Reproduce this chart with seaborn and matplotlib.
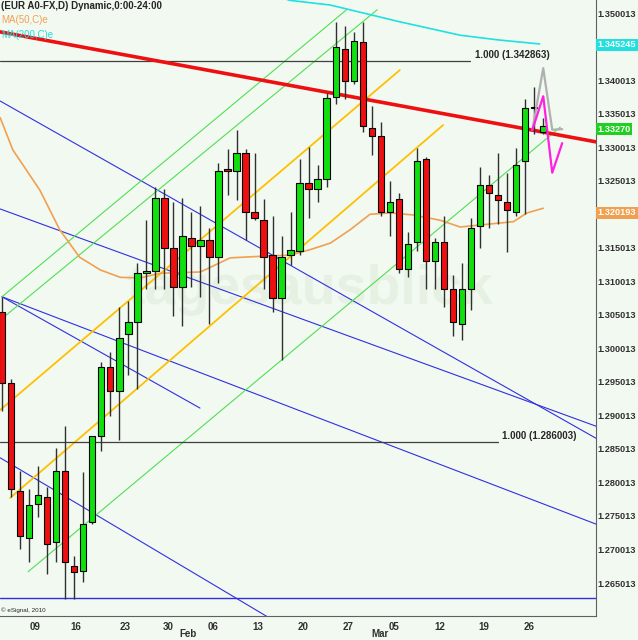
import matplotlib
matplotlib.use("Agg")
import matplotlib.pyplot as plt
import matplotlib.transforms as mtransforms
import numpy as np
import pandas as pd
import seaborn as sns

# daily candles, EUR A0-FX
opens = [1.3055, 1.2948, 1.2788, 1.2718, 1.2768, 1.2779, 1.2711, 1.2817, 1.2675, 1.2668,
         1.2741, 1.2870, 1.2973, 1.2936, 1.3022, 1.3040, 1.3113, 1.3115, 1.3225, 1.3150,
         1.3091, 1.3165, 1.3152, 1.3162, 1.3137, 1.3267, 1.3265, 1.3291, 1.3203, 1.3191,
         1.3139, 1.3075, 1.3139, 1.3145, 1.3247, 1.3237, 1.3253, 1.3375, 1.3446, 1.3399,
         1.3457, 1.3329, 1.3316, 1.3204, 1.3223, 1.3119, 1.3158, 1.3282, 1.3130, 1.3158,
         1.3089, 1.3037, 1.3088, 1.3183, 1.3243, 1.3229, 1.3219, 1.3204, 1.3279, 1.3359,
         1.3323]
highs = [1.3077, 1.2954, 1.2817, 1.2790, 1.2824, 1.2794, 1.2851, 1.2884, 1.2690, 1.2815,
         1.2870, 1.2979, 1.2994, 1.3061, 1.3070, 1.3128, 1.3192, 1.3240, 1.3238, 1.3219,
         1.3225, 1.3204, 1.3212, 1.3180, 1.3277, 1.3297, 1.3326, 1.3297, 1.3291, 1.3223,
         1.3198, 1.3167, 1.3204, 1.3283, 1.3300, 1.3274, 1.3381, 1.3487, 1.3481, 1.3472,
         1.3487, 1.3361, 1.3338, 1.3249, 1.3232, 1.3173, 1.3299, 1.3285, 1.3165, 1.3198,
         1.3109, 1.3127, 1.3194, 1.3271, 1.3259, 1.3291, 1.3262, 1.3299, 1.3372, 1.3390,
         1.3343]
lows = [1.2906, 1.2778, 1.2701, 1.2681, 1.2748, 1.2663, 1.2681, 1.2626, 1.2627, 1.2651,
        1.2738, 1.2847, 1.2899, 1.2863, 1.2961, 1.2940, 1.3088, 1.3088, 1.3088, 1.3049,
        1.3034, 1.3092, 1.3076, 1.3036, 1.3098, 1.3229, 1.3222, 1.3162, 1.3192, 1.3089,
        1.3054, 1.2982, 1.3125, 1.3140, 1.3195, 1.3219, 1.3240, 1.3364, 1.3372, 1.3395,
        1.3322, 1.3289, 1.3197, 1.3167, 1.3113, 1.3106, 1.3145, 1.3088, 1.3088, 1.3061,
        1.3019, 1.3013, 1.3058, 1.3150, 1.3180, 1.3186, 1.3143, 1.3197, 1.3200, 1.3320,
        1.3320]
closes = [1.2949, 1.2791, 1.2720, 1.2766, 1.2781, 1.2709, 1.2817, 1.2681, 1.2666, 1.2738,
          1.2869, 1.2973, 1.2936, 1.3016, 1.3040, 1.3113, 1.3115, 1.3225, 1.3150, 1.3091,
          1.3167, 1.3153, 1.3162, 1.3137, 1.3265, 1.3265, 1.3292, 1.3203, 1.3194, 1.3137,
          1.3075, 1.3137, 1.3146, 1.3247, 1.3238, 1.3253, 1.3374, 1.3450, 1.3399, 1.3459,
          1.3331, 1.3316, 1.3204, 1.3219, 1.3119, 1.3156, 1.3280, 1.3130, 1.3158, 1.3089,
          1.3039, 1.3089, 1.3180, 1.3243, 1.3231, 1.3222, 1.3206, 1.3274, 1.3359, 1.3360,
          1.3332]

# moving averages (index, price)
ma50_x = [-0.2, 1.2, 4.2, 6.4, 8.6, 10.9, 13.1, 15.3, 17.5, 22.0, 25.3, 29.7, 31.9,
          34.1, 36.4, 38.6, 40.8, 43.0, 45.6, 48.6, 50.8, 53.0, 56.7, 58.2, 60.0]
ma50_y = [1.3344, 1.3296, 1.3236, 1.3177, 1.3136, 1.3117, 1.3106, 1.3105, 1.3112, 1.3114,
          1.3135, 1.3138, 1.3139, 1.3147, 1.3157, 1.3177, 1.3200, 1.3202, 1.3199, 1.3191,
          1.3181, 1.3184, 1.3189, 1.3202, 1.3209]
ma200_x = [29.5, 31.9, 36.4, 44.1, 50.8, 55.0, 59.6]
ma200_y = [1.3530, 1.3519, 1.3512, 1.3487, 1.3467, 1.3460, 1.3454]

# trend lines: (x0, y0, x1, y1, colour, width)
trend_lines = [
    (-0.22, 1.3369, 65.85, 1.2866, "#3030e0", 0.8),
    (-0.22, 1.3208, 65.85, 1.2884, "#3030e0", 0.8),
    (0.0, 1.3077, 65.85, 1.2738, "#3030e0", 0.8),
    (0.0, 1.3077, 21.95, 1.2911, "#3030e0", 0.8),
    (-0.22, 1.2837, 29.4, 1.2600, "#3030e0", 0.8),
    (-0.22, 1.2628, 65.85, 1.2628, "#3030e0", 1.0),
    (-0.22, 1.2908, 44.1, 1.3415, "#ffc000", 1.3),
    (0.9, 1.2777, 48.9, 1.3333, "#ffc000", 1.3),
    (0.0, 1.3077, 38.2, 1.3505, "#50e050", 0.8),
    (-0.22, 1.3042, 41.6, 1.3505, "#50e050", 0.8),
    (2.9, 1.2667, 61.9, 1.3330, "#50e050", 0.8),
    (-0.22, 1.342863, 51.9, 1.342863, "#404040", 0.9),
    (-0.22, 1.286003, 55.0, 1.286003, "#404040", 0.9),
    (-0.22, 1.3472, 65.85, 1.3308, "#ee1010", 2.6),
]

proj_x = [58.8, 60.0, 61.0, 62.1]
proj_gray = [1.3326, 1.3418, 1.3326, 1.3327]
proj_pink = [1.3326, 1.3376, 1.3262, 1.3306]

tick_pos = [3.7, 8.2, 13.6, 18.4, 23.4, 28.4, 33.4, 38.4, 43.5, 48.5, 53.4, 58.4]
tick_lbl = ["09", "16", "23", "30", "06", "13", "20", "27", "05", "12", "19", "26"]
months = [("Feb", 20.6), ("Mar", 41.9)]
price_ticks = [1.265013, 1.270013, 1.275013, 1.280013, 1.285013, 1.290013, 1.295013,
               1.300013, 1.305013, 1.310013, 1.315013, 1.325013, 1.330013, 1.335013,
               1.340013, 1.350013]

sns.set_style("white")
plt.rcParams["font.family"] = ["Liberation Sans", "DejaVu Sans"]
bg = "#f2f9f1"
fig = plt.figure(figsize=(6.38, 6.40), dpi=100, facecolor=bg)
ax = fig.add_axes([0.0, 0.0375, 596 / 638, 616 / 640], facecolor=bg)

df = pd.DataFrame({"o": opens, "h": highs, "l": lows, "c": closes})
df["i"] = np.arange(len(df))

for x0, y0, x1, y1, col, lw in trend_lines:
    ax.plot([x0, x1], [y0, y1], color=col, lw=lw, zorder=1)

ax.text(52.4, 1.342863 + 0.0002, "1.000 (1.342863)", fontsize=7, fontweight="bold", va="bottom")
ax.text(55.4, 1.286003 + 0.0002, "1.000 (1.286003)", fontsize=7, fontweight="bold", va="bottom")

sns.lineplot(x=ma50_x, y=ma50_y, ax=ax, color="#f0a050", lw=1.2, zorder=2)
sns.lineplot(x=ma200_x, y=ma200_y, ax=ax, color="#20e0e0", lw=1.2, zorder=2)

ax.vlines(df["i"], df["l"], df["h"], color="#303030", lw=1.0, zorder=3)
up = df["c"] >= df["o"]
body = (df["c"] - df["o"]).abs().clip(lower=0.00008)
bottom = df[["o", "c"]].min(axis=1)
ax.bar(df["i"][up], body[up], bottom=bottom[up], width=0.72, color="#10e010",
       edgecolor="black", lw=0.8, zorder=4)
ax.bar(df["i"][~up], body[~up], bottom=bottom[~up], width=0.72, color="#ee1010",
       edgecolor="black", lw=0.8, zorder=4)

ax.plot(proj_x, proj_gray, color="#b0b0b0", lw=1.6, zorder=5)
ax.plot(proj_x, proj_pink, color="#ff20e0", lw=1.6, zorder=6)

ax.text(0.52, 0.53, "tagesausblick", transform=ax.transAxes, fontsize=40, fontweight="bold",
        color="#e6f1e4", ha="center", va="center", zorder=0.5)

ax.set_xlim(-0.22, 65.85)
ax.set_ylim(1.260096, 1.351952)
ax.yaxis.tick_right()
ax.set_yticks(price_ticks)
ax.set_yticklabels([f"{p:.6f}" for p in price_ticks])
ax.set_xticks(tick_pos)
ax.set_xticklabels(tick_lbl)
ax.tick_params(axis="x", labelsize=7, length=3, color="#606060", pad=1.5)
ax.tick_params(axis="y", labelsize=6.6, length=0, pad=1)
for lbl in ax.get_xticklabels() + ax.get_yticklabels():
    lbl.set_fontweight("bold")
    lbl.set_color("#303030")
for m, xpos in months:
    ax.text(xpos, -0.021, m, transform=mtransforms.blended_transform_factory(ax.transData, ax.transAxes),
            fontsize=7, fontweight="bold", ha="center", va="top", color="#303030")
for s in ["top", "left"]:
    ax.spines[s].set_visible(False)
for s in ["right", "bottom"]:
    ax.spines[s].set_color("#606060")

trans = mtransforms.blended_transform_factory(ax.transAxes, ax.transData)
for val, txt, col in [(1.345245, "1.345245", "#20e0e0"), (1.3327, "1.33270", "#20d020"),
                      (1.320193, "1.320193", "#f0a050")]:
    ax.text(1.003, val, txt, transform=trans, fontsize=6.6, fontweight="bold", color="white",
            va="center", ha="left", bbox=dict(boxstyle="square,pad=0.15", fc=col, ec="none"))

ax.text(0.002, 0.998, "(EUR A0-FX,D) Dynamic,0:00-24:00", transform=ax.transAxes,
        fontsize=7, fontweight="bold", va="top")
ax.text(0.002, 0.975, "MA(50,C)e", transform=ax.transAxes, fontsize=7, color="#f0a050", va="top")
ax.text(0.002, 0.952, "MA(200,C)e", transform=ax.transAxes, fontsize=7, color="#20e0e0", va="top")
ax.text(0.002, 0.005, "© eSignal, 2010", transform=ax.transAxes, fontsize=4.5, va="bottom")

fig.savefig("out.png", dpi=100, facecolor=bg)
